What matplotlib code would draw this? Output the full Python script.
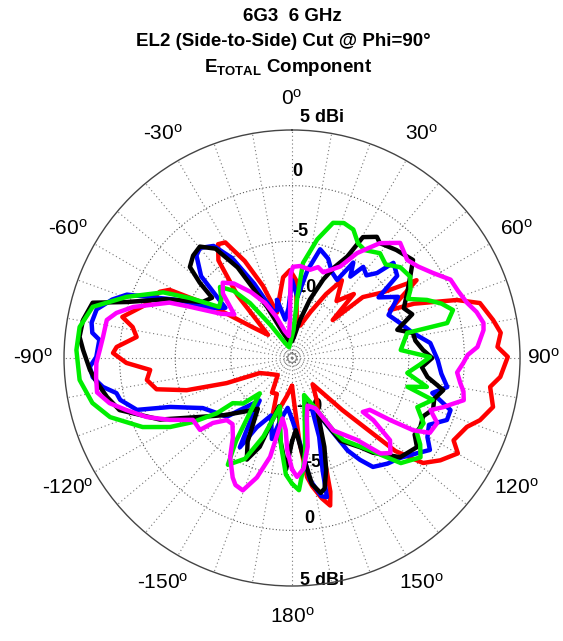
import numpy as np
import matplotlib
matplotlib.use("Agg")
import matplotlib.pyplot as plt

plt.rcParams['font.family'] = ['Liberation Sans', 'DejaVu Sans']
plt.rcParams['mathtext.fontset'] = 'custom'
plt.rcParams['mathtext.rm'] = 'Liberation Sans'
plt.rcParams['mathtext.bf'] = 'Liberation Sans:bold'
plt.rcParams['mathtext.it'] = 'Liberation Sans:italic'

# ---------------- data (angle in degrees, gain in dBi) ----------------
red_deg = [-180, -172, -165, -161, -157, -150, -140, -125, -115, -111,
           -107, -103, -98.6, -94.8, -91.7, -88.4, -86.4, -82.3, -79, -76.4,
           -70, -63.4, -60.9, -57, -52, -46, -41, -37, -33, -30,
           -26, -22, -18.4, -12, -6.3, -1.3, 3, 7, 14, 22,
           28, 32.7, 38, 44, 47, 49.3, 54, 58, 63.9, 66,
           70.6, 73.7, 79.3, 83.1, 86.9, 89.7, 95.2, 98.3, 103.7, 108.3,
           111.5, 117, 119.9, 124.6, 128.7, 132, 136, 142, 150, 155,
           158, 161.4, 164, 165.5, 168, 171, 172.8, 175, 178]
red_db = [-13, -12, -10.5, -10.2, -12, -11.9, -13.5, -13, -12.3, -9.2,
          -5.6, -3.0, -2.3, -2.7, -0.6, 0.6, 0.3, -1.4, -0.9, 0.2,
          -1.5, -2.2, -2.9, -7, -11, -12.5, -8, -4.5, -3.3, -3.5,
          -5.8, -8.5, -11.2, -10, -8.2, -7.6, -8.5, -12, -12.5, -11,
          -9, -7.2, -9, -7.5, -10.5, -7.1, -5.5, -2.3, -5.7, -3.5,
          0.2, 2.1, 2.9, 3.4, 3.0, 3.9, 3.3, 2.5, 3.1, 2.3,
          1.4, 0.8, 1.7, 0.7, -0.4, -3, -9, -12.5, -11, -10,
          -9, -6.8, -3, -1.8, -2.6, -3.8, -4.7, -8, -12]

blue_deg = [-180, -175, -170, -166, -160, -153, -149.7, -146, -142.7, -135,
            -132, -125, -119.3, -111.9, -108.5, -103.7, -101.3, -98.7, -95.5, -92.5,
            -89.7, -84.6, -82.8, -80, -76, -72, -69, -63.2, -58, -53,
            -48, -43, -39.9, -35, -31, -27, -22, -17, -14.5, -10,
            -4, 0, 5, 10, 14.5, 20, 25, 30, 32.7, 35.6,
            38, 42, 45, 46.8, 52, 55, 60, 66, 72, 78.3,
            83.8, 90.8, 96, 100.6, 104, 108.2, 111.8, 116, 120.3, 123.7,
            128, 133, 137.9, 143.4, 146.3, 149, 153, 158, 161, 164.8,
            165.9, 168, 171.6, 175]
blue_db = [-10, -11, -10, -8, -10, -8.5, -6.2, -9, -10.7, -8.9,
           -7.6, -7, -6.3, -3.7, -0.8, 0.4, 0.6, 1.7, 2.5, 2.7,
           2.1, 1.9, 2.6, 2.8, 2.6, 1.5, 0.4, -3.9, -7, -8,
           -4.5, -2.9, -2.6, -3.2, -5, -8, -11, -11, -10.1, -12,
           -11, -8.5, -10, -7.5, -5.4, -6, -7, -7.4, -5.3, -6.5,
           -5.1, -5.5, -4.7, -3.0, -3.5, -6, -4.5, -6, -5.3, -4.4,
           -3.0, -2.4, -2.0, -1.3, -2.5, -0.5, -0.5, -1.8, -1.4, -0.6,
           -1.5, -2.3, -2.7, -3.3, -4.5, -5.8, -9, -11, -8, -5,
           -2.6, -2.8, -4.4, -8]

black_deg = [-180, -177, -172, -165, -160, -156, -152, -146, -138, -130,
             -122.7, -115, -106.8, -101.9, -97, -93.4, -87.8, -84.3, -79.7, -74.5,
             -71.3, -65, -58, -53, -50.8, -48.3, -44, -39.6, -35, -31,
             -26, -20, -10, 0, 6, 11.9, 17, 21.7, 25, 28.6,
             30.4, 35, 37.4, 44, 51, 55, 60.5, 66, 70, 75,
             78.3, 82, 86.5, 90, 94, 98, 102, 106, 110, 114,
             118.3, 122, 125.5, 132.5, 139.5, 142.6, 149.7, 155, 160, 163,
             166, 168, 171, 174, 177]
black_db = [-8, -5.5, -8, -11, -7, -5.5, -7, -10, -9, -7.5,
            -5.7, -2.4, 0.7, 1.5, 2.2, 2.7, 3.3, 3.7, 3.6, 3.1,
            0.2, -3, -6, -6.5, -4.8, -3.2, -2.7, -2.5, -3.5, -6,
            -10.4, -13, -14, -14, -13.5, -12, -10, -7.9, -6.5, -5.1,
            -2.9, -2.2, -2.5, -2.0, -1.5, -2.5, -3.6, -4.5, -4.0, -5.7,
            -4.4, -4.3, -3.7, -2.9, -3.8, -3.2, -1.6, -2.2, -2.0, -2.6,
            -2.4, -2.5, -1.7, -2.3, -4.3, -5.4, -6.9, -10, -7, -5,
            -3.4, -3.1, -4, -7, -9]

green_deg = [-180, -177, -173, -171, -166, -160, -155, -149, -146, -142,
             -137.6, -133, -127.3, -126.3, -122.9, -119.5, -114.8, -108, -102.7, -95.9,
             -87.9, -81.7, -75.6, -69.7, -63, -59.5, -55, -50, -45.4, -41,
             -37.4, -33, -25, -15, -5, 3, 5, 6.6, 12, 16.9,
             21, 25.5, 29.9, 34, 40, 45, 50, 55.5, 60, 63,
             66.7, 70, 73.4, 77.3, 77.7, 85.8, 89.6, 93, 97.4, 102.1,
             104, 106.6, 111.4, 116.4, 121, 124, 127.7, 134, 139.7, 148,
             150.3, 155, 162, 168, 172, 174.4, 177]
green_db = [-4.2, -5, -7.5, -8.7, -11, -8, -5.5, -4.3, -6.5, -9.5,
            -11.2, -9.5, -8.8, -7.1, -4.9, -2.9, -0.7, 1.7, 2.9, 3.7,
            3.9, 3.8, 3.0, 0.35, -2.5, -4.9, -7.5, -7.2, -6.4, -7.5,
            -9.3, -12, -14, -14.5, -14, -13, -10, -6.9, -4.6, -2.8,
            -2.5, -2.7, -3.6, -3.8, -3.2, -3.6, -2.8, -2.6, -3.2, -3.8,
            -2.3, -1.2, -0.4, -1.2, -4.9, -5.7, -3.1, -4, -5.05, -3.1,
            -4.8, -2.3, -3.4, -2.3, -2.4, -1.6, -0.9, -1.9, -4.6, -6.8,
            -8.0, -10.5, -12, -10, -7, -5.4, -3.6]

magenta_deg = [-180, -177, -175, -171, -167.5, -163.6, -159.6, -156, -153.6, -148,
               -143.3, -138, -133.6, -129.4, -128, -122, -116.9, -112.1, -107.5, -103.9,
               -100, -95.5, -91.5, -87.6, -83.7, -78.4, -75.6, -72.2, -65.7, -63.4,
               -58, -53, -47, -42.6, -38, -32, -26, -21, -15, -8,
               -3, -1, 0.6, 5, 11.6, 16, 20, 24, 27.8, 31.8,
               37.4, 43.2, 49.6, 54, 58.9, 63.7, 68, 72.5, 76, 79.6,
               81.7, 86.6, 89, 91.7, 95, 98.5, 101, 103.8, 106, 108,
               110.6, 114.1, 118.5, 120.8, 122.3, 123.7, 127.3, 127.4, 130, 134,
               137.2, 141.6, 150.3, 155, 162, 166, 170, 174, 177.6]
magenta_db = [-5.5, -7.2, -9, -10, -6.4, -4.3, -2.8, -3.0, -3.5, -5,
              -6.6, -7.5, -7.4, -6.3, -5, -5, -3.2, -1.4, 0.1, 1.4,
              2.3, 2.2, 2.1, 1.8, 1.6, 1.5, 0.8, -0.5, -3.4, -5.2,
              -8, -9, -7, -6.3, -7, -8.5, -10, -11.5, -13, -13.5,
              -12, -8, -7.3, -7.2, -7.4, -7.0, -7.3, -6.8, -6.2, -4.4,
              -2.5, -1.3, -1.9, -1.5, -0.7, 0.4, 0.6, 1.0, 1.6, 2.0,
              1.9, 1.2, 0.3, -0.1, -0.6, -0.2, 0.2, 0.4, -0.5, -1.2,
              -2.2, -1.2, -1.4, -2.8, -5.05, -7.1, -7.5, -6.3, -4, -3.2,
              -3.8, -6.1, -8, -10.5, -11, -10, -7.4, -5.5, -4.8]

series = [
    (red_deg, red_db, '#ff0000'),
    (blue_deg, blue_db, '#0000ff'),
    (black_deg, black_db, '#000000'),
    (green_deg, green_db, '#00ee00'),
    (magenta_deg, magenta_db, '#ff00ff'),
]

ring_values = [-15, -10, -5, 0]
r_min, r_max = -15.5, 5
angle_ticks = [0, 30, 60, 90, 120, 150, 180, -150, -120, -90, -60, -30]

# ---------------- figure ----------------
fig = plt.figure(figsize=(5.63, 6.41), dpi=100)
ax = fig.add_axes([0.1137, 0.0858, 0.81, 0.7114], projection='polar')
ax.set_theta_zero_location('N')
ax.set_theta_direction(-1)
ax.set_ylim(r_min, r_max)
ax.set_xticks([])
ax.set_yticks([])
ax.grid(False)
ax.spines['polar'].set_linewidth(1.0)
ax.spines['polar'].set_color('#444444')

full = np.linspace(0, 2 * np.pi, 721)
for rv in ring_values:
    ax.plot(full, np.full_like(full, rv), ls=(0, (1, 2)), color='#555555',
            lw=0.8, zorder=1)
for t in range(0, 360, 10):
    ax.plot([np.deg2rad(t)] * 2, [r_min, r_max], ls=(0, (1, 2.5)),
            color='#777777', lw=0.8, zorder=1)

# ring labels
ring_labels = [('5 dBi', 7.1, 6.3), ('0', 1.5, 1.3), ('-5', 3.6, -4.1),
               ('-10', 8.9, -9.1), ('0', 174, -1.0), ('5 dBi', 172.3, 4.7),
               ('-5', 168.6, -5.95), ('-10', 160.5, -10.9)]
for txt, a, r in ring_labels:
    ax.text(np.deg2rad(a), r, txt, ha='center', va='center', fontsize=13,
            fontweight='bold', zorder=2, clip_on=False)

for deg, db, col in series:
    th = np.deg2rad(np.append(deg, deg[0]))
    rr = np.append(db, db[0])
    ax.plot(th, rr, color=col, lw=3.2, solid_joinstyle='round',
            solid_capstyle='round', zorder=3)

for a in angle_ticks:
    rad = 7.1 if a == 90 else 7.8
    ax.text(np.deg2rad(a), rad, f"{a}$^{{\\mathrm{{o}}}}$", ha='center',
            va='center', fontsize=15, clip_on=False)

fig.text(0.519, 1 - 21 / 641, '6G3  6 GHz', ha='center', va='baseline',
         fontsize=13.5, fontweight='bold')
fig.text(0.503, 1 - 46 / 641, 'EL2 (Side-to-Side) Cut @ Phi=90\u00b0',
         ha='center', va='baseline', fontsize=13.5, fontweight='bold')
fig.text(0.512, 1 - 72 / 641, r'$\mathbf{E_{TOTAL}}$ Component',
         ha='center', va='baseline', fontsize=13.5, fontweight='bold')

fig.savefig('out.png', dpi=100, facecolor='white')
